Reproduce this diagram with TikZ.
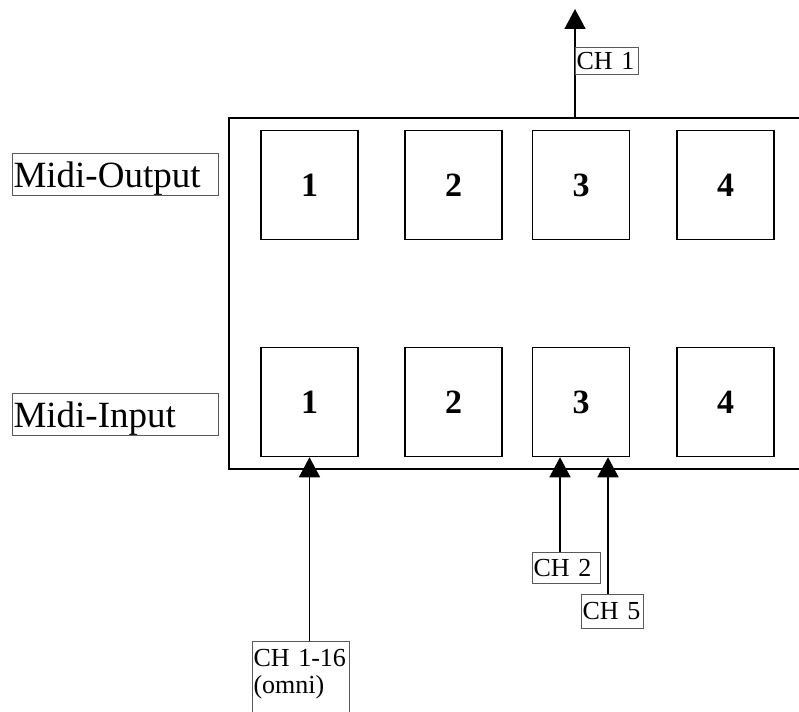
\documentclass[tikz,border=0pt]{standalone}
\usepackage{fontspec}
\setmainfont{Liberation Serif}
\usetikzlibrary{arrows.meta}
\begin{document}
\begin{tikzpicture}[x=1pt,y=-1pt,
  chan/.style={draw,line width=1.5pt,minimum width=97pt,minimum height=109pt,font=\fontsize{34}{40}\selectfont\bfseries},
  tag/.style={draw=black!65,line width=1pt,anchor=north west,inner sep=1pt,align=left,font=\fontsize{26}{27}\selectfont},
  side/.style={tag,text width=204pt,minimum height=42pt,text depth=0pt,font=\fontsize{37}{40}\selectfont},
  arr/.style={line width=1.5pt,-{Triangle[width=21pt,length=20pt]}}]
\useasboundingbox (0,0) rectangle (799,711);
\clip (0,0) rectangle (799,711);

\draw[line width=1.5pt] (800,118) -- (229,118) -- (229,469) -- (800,469);

\node[chan] (out1) at (309.5,185) {1};
\node[chan] (out2) at (453.5,185) {2};
\node[chan] (out3) at (581,185) {3};
\node[chan] (out4) at (725.5,185) {4};
\node[chan] (in1) at (309.5,402) {1};
\node[chan] (in2) at (453.5,402) {2};
\node[chan] (in3) at (581,402) {3};
\node[chan] (in4) at (725.5,402) {4};

\node[side] (midiout) at (12,153) {Midi-Output};
\node[side] (midiin) at (12,393) {Midi-Input};

\coordinate (ch1from) at (575,118);
\coordinate (ch1to) at (575,9);
\draw[arr] (ch1from) -- (ch1to);
\node[tag,text width=61pt,minimum height=27pt] (ch1) at (575,47) {CH 1};

\node[tag,text width=95pt,inner ysep=8pt,text depth=50pt] (omni) at (252,641) {CH 1-16\\(omni)};
\draw[arr] (omni.north -| in1.south) -- (in1.south);

\node[tag,text width=66pt,minimum height=31pt] (ch2) at (532,552) {CH 2};
\path (ch2.north west) ++(28,0) coordinate (ch2top);
\draw[arr] (ch2top) -- (ch2top |- in3.south);

\node[tag,text width=60pt,minimum height=34pt] (ch5) at (581,594) {CH 5};
\path (ch5.north west) ++(27,0) coordinate (ch5top);
\draw[arr] (ch5top) -- (ch5top |- in3.south);
\end{tikzpicture}
\end{document}
